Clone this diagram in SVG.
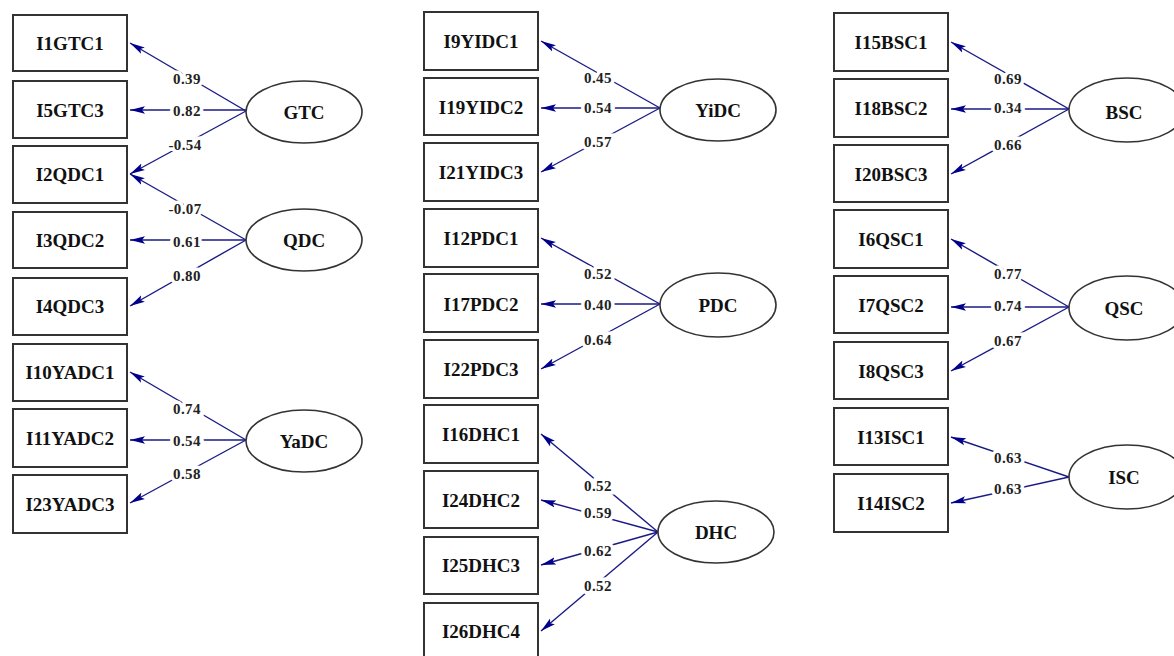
<svg xmlns="http://www.w3.org/2000/svg" width="1174" height="656" viewBox="0 0 1174 656">
<style>
.box{fill:#fff;stroke:#333;stroke-width:2}
.lat{fill:#fff;stroke:#333;stroke-width:1.6}
.t{font-family:"Liberation Serif","Times New Roman",serif;font-weight:bold;font-size:19px;fill:#111;text-anchor:middle;dominant-baseline:central}
.e{fill:none;stroke:#1a1a85;stroke-width:1.4;marker-end:url(#ah)}
.lb{font-family:"Liberation Serif","Times New Roman",serif;font-weight:bold;font-size:15px;fill:#222;text-anchor:middle;stroke:#fff;stroke-width:7;paint-order:stroke;letter-spacing:0.4px}
</style>
<defs>
<marker id="ah" viewBox="0 0 15 9" refX="15" refY="4.5" markerWidth="15" markerHeight="9" markerUnits="userSpaceOnUse" orient="auto">
<path d="M0,0.8 L15,4.5 L0,8.2 L3,4.5 z" fill="#00008b"/>
</marker>
</defs>
<rect width="1174" height="656" fill="#fff"/>
<g id="connectors">
<path class="e" d="M246,111 L130,43"/>
<path class="e" d="M246,110 L130,110"/>
<path class="e" d="M246,111 L130,174"/>
<path class="e" d="M246,240 L130,174"/>
<path class="e" d="M246,240 L130,240"/>
<path class="e" d="M246,240 L130,306"/>
<path class="e" d="M246,440 L130,372"/>
<path class="e" d="M246,440 L130,440"/>
<path class="e" d="M246,440 L130,503"/>
<path class="e" d="M660,108 L541,41"/>
<path class="e" d="M660,108 L541,108"/>
<path class="e" d="M660,108 L541,172"/>
<path class="e" d="M660,304 L541,238"/>
<path class="e" d="M660,304 L541,304"/>
<path class="e" d="M660,304 L541,369"/>
<path class="e" d="M658,532 L541,434"/>
<path class="e" d="M658,532 L541,500"/>
<path class="e" d="M658,532 L541,565"/>
<path class="e" d="M658,532 L541,631"/>
<path class="e" d="M1069,109 L951,42"/>
<path class="e" d="M1069,109 L951,109"/>
<path class="e" d="M1069,109 L951,174"/>
<path class="e" d="M1069,307 L951,239"/>
<path class="e" d="M1069,307 L951,307"/>
<path class="e" d="M1069,307 L951,371"/>
<path class="e" d="M1069,477 L951,437"/>
<path class="e" d="M1069,477 L951,503"/>
</g>
<g id="labels">
<text class="lb" x="187" y="84">0.39</text>
<text class="lb" x="187" y="116">0.82</text>
<text class="lb" x="185" y="150">-0.54</text>
<text class="lb" x="185" y="214">-0.07</text>
<text class="lb" x="187" y="247">0.61</text>
<text class="lb" x="187" y="281">0.80</text>
<text class="lb" x="187" y="414">0.74</text>
<text class="lb" x="187" y="446">0.54</text>
<text class="lb" x="187" y="479">0.58</text>
<text class="lb" x="598" y="83">0.45</text>
<text class="lb" x="598" y="113">0.54</text>
<text class="lb" x="598" y="147">0.57</text>
<text class="lb" x="598" y="279">0.52</text>
<text class="lb" x="598" y="310">0.40</text>
<text class="lb" x="598" y="345">0.64</text>
<text class="lb" x="598" y="491">0.52</text>
<text class="lb" x="598" y="518">0.59</text>
<text class="lb" x="598" y="556">0.62</text>
<text class="lb" x="598" y="591">0.52</text>
<text class="lb" x="1008" y="84">0.69</text>
<text class="lb" x="1008" y="113">0.34</text>
<text class="lb" x="1008" y="150">0.66</text>
<text class="lb" x="1008" y="279">0.77</text>
<text class="lb" x="1008" y="311">0.74</text>
<text class="lb" x="1008" y="346">0.67</text>
<text class="lb" x="1008" y="463">0.63</text>
<text class="lb" x="1008" y="494">0.63</text>
</g>
<g id="I1GTC1"><rect class="box" x="13" y="15" width="114" height="56"/><text class="t" x="70" y="43">I1GTC1</text></g>
<g id="I5GTC3"><rect class="box" x="13" y="81" width="114" height="57"/><text class="t" x="70" y="110">I5GTC3</text></g>
<g id="I2QDC1"><rect class="box" x="13" y="146" width="114" height="57"/><text class="t" x="70" y="174">I2QDC1</text></g>
<g id="I3QDC2"><rect class="box" x="13" y="212" width="114" height="56"/><text class="t" x="70" y="240">I3QDC2</text></g>
<g id="I4QDC3"><rect class="box" x="13" y="278" width="114" height="57"/><text class="t" x="70" y="306">I4QDC3</text></g>
<g id="I10YADC1"><rect class="box" x="13" y="344" width="114" height="57"/><text class="t" x="70" y="372">I10YADC1</text></g>
<g id="I11YADC2"><rect class="box" x="13" y="409" width="114" height="58"/><text class="t" x="70" y="438">I11YADC2</text></g>
<g id="I23YADC3"><rect class="box" x="13" y="475" width="114" height="58"/><text class="t" x="70" y="504">I23YADC3</text></g>
<g id="GTC"><ellipse class="lat" cx="304" cy="112" rx="58" ry="31"/><text class="t" x="304" y="112">GTC</text></g>
<g id="QDC"><ellipse class="lat" cx="304" cy="240" rx="58" ry="31"/><text class="t" x="304" y="240">QDC</text></g>
<g id="YaDC"><ellipse class="lat" cx="304" cy="441" rx="58" ry="31"/><text class="t" x="304" y="441">YaDC</text></g>
<g id="I9YIDC1"><rect class="box" x="424" y="12" width="114" height="58"/><text class="t" x="481" y="41">I9YIDC1</text></g>
<g id="I19YIDC2"><rect class="box" x="424" y="78" width="114" height="57"/><text class="t" x="481" y="107">I19YIDC2</text></g>
<g id="I21YIDC3"><rect class="box" x="424" y="143" width="114" height="58"/><text class="t" x="481" y="172">I21YIDC3</text></g>
<g id="I12PDC1"><rect class="box" x="424" y="209" width="114" height="58"/><text class="t" x="481" y="238">I12PDC1</text></g>
<g id="I17PDC2"><rect class="box" x="424" y="274" width="114" height="58"/><text class="t" x="481" y="304">I17PDC2</text></g>
<g id="I22PDC3"><rect class="box" x="424" y="340" width="114" height="58"/><text class="t" x="481" y="369">I22PDC3</text></g>
<g id="I16DHC1"><rect class="box" x="424" y="405" width="114" height="58"/><text class="t" x="481" y="434">I16DHC1</text></g>
<g id="I24DHC2"><rect class="box" x="424" y="471" width="114" height="57"/><text class="t" x="481" y="500">I24DHC2</text></g>
<g id="I25DHC3"><rect class="box" x="424" y="537" width="114" height="57"/><text class="t" x="481" y="565">I25DHC3</text></g>
<g id="I26DHC4"><rect class="box" x="424" y="603" width="114" height="58"/><text class="t" x="481" y="631">I26DHC4</text></g>
<g id="YiDC"><ellipse class="lat" cx="718" cy="110" rx="58" ry="31"/><text class="t" x="718" y="110">YiDC</text></g>
<g id="PDC"><ellipse class="lat" cx="718" cy="305" rx="58" ry="32"/><text class="t" x="718" y="305">PDC</text></g>
<g id="DHC"><ellipse class="lat" cx="716" cy="532" rx="58" ry="31"/><text class="t" x="716" y="532">DHC</text></g>
<g id="I15BSC1"><rect class="box" x="834" y="13" width="114" height="58"/><text class="t" x="891" y="42">I15BSC1</text></g>
<g id="I18BSC2"><rect class="box" x="834" y="79" width="114" height="58"/><text class="t" x="891" y="108">I18BSC2</text></g>
<g id="I20BSC3"><rect class="box" x="834" y="145" width="114" height="57"/><text class="t" x="891" y="174">I20BSC3</text></g>
<g id="I6QSC1"><rect class="box" x="834" y="210" width="114" height="58"/><text class="t" x="891" y="239">I6QSC1</text></g>
<g id="I7QSC2"><rect class="box" x="834" y="276" width="114" height="57"/><text class="t" x="891" y="305">I7QSC2</text></g>
<g id="I8QSC3"><rect class="box" x="834" y="342" width="114" height="57"/><text class="t" x="891" y="371">I8QSC3</text></g>
<g id="I13ISC1"><rect class="box" x="834" y="408" width="114" height="57"/><text class="t" x="891" y="437">I13ISC1</text></g>
<g id="I14ISC2"><rect class="box" x="834" y="474" width="114" height="58"/><text class="t" x="891" y="503">I14ISC2</text></g>
<g id="BSC"><ellipse class="lat" cx="1127" cy="110" rx="58" ry="32"/><text class="t" x="1124" y="112">BSC</text></g>
<g id="QSC"><ellipse class="lat" cx="1127" cy="308" rx="58" ry="32"/><text class="t" x="1124" y="308">QSC</text></g>
<g id="ISC"><ellipse class="lat" cx="1127" cy="477" rx="58" ry="32"/><text class="t" x="1124" y="477">ISC</text></g>
</svg>
